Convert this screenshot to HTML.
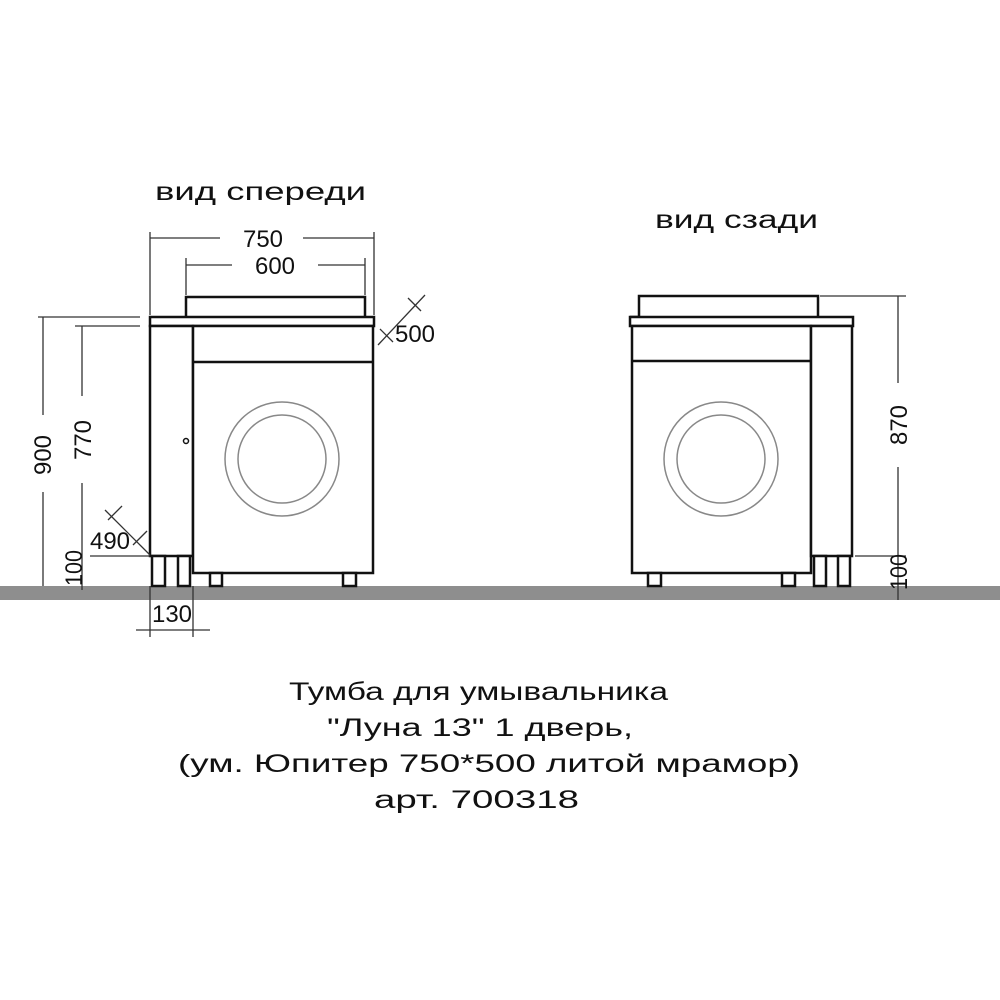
<!DOCTYPE html>
<html><head><meta charset="utf-8"><style>
html,body{margin:0;padding:0;background:#fff}
svg{display:block}
text{font-family:"Liberation Sans","DejaVu Sans",sans-serif;fill:#111}
</style></head><body>
<svg width="1000" height="1000" viewBox="0 0 1000 1000" xmlns="http://www.w3.org/2000/svg">
<rect x="0" y="0" width="1000" height="1000" fill="#fff"/>
<rect x="0" y="586" width="1000" height="14" fill="#8e8e8e"/>

<g fill="#fff" stroke="#111" stroke-width="2.5">
<path d="M186,317 V297 H365 V317"/>
<rect x="150" y="317" width="224" height="9"/>
<rect x="150" y="326" width="43" height="230"/>
<rect x="193" y="326" width="180" height="247"/>
<line x1="193" y1="362" x2="373" y2="362"/>
<rect x="152" y="556" width="13" height="30"/>
<rect x="178" y="556" width="12" height="30"/>
<rect x="210" y="573" width="12" height="13"/>
<rect x="343" y="573" width="13" height="13"/>
<path d="M630,317 H639 V296 H818 V317"/>
<rect x="630" y="317" width="223" height="9"/>
<rect x="632" y="326" width="179" height="247"/>
<line x1="632" y1="361" x2="811" y2="361"/>
<rect x="811" y="326" width="41" height="230"/>
<rect x="814" y="556" width="12" height="30"/>
<rect x="838" y="556" width="12" height="30"/>
<rect x="648" y="573" width="13" height="13"/>
<rect x="782" y="573" width="13" height="13"/>
</g>
<g fill="none" stroke="#888" stroke-width="1.5">
<circle cx="282" cy="459" r="57"/><circle cx="282" cy="459" r="44"/>
<circle cx="721" cy="459" r="57"/><circle cx="721" cy="459" r="44"/>
</g>
<circle cx="186" cy="441" r="2.5" fill="#fff" stroke="#111" stroke-width="1.5"/>

<g stroke="#333" stroke-width="1.3" fill="none">
<line x1="150" y1="232" x2="150" y2="315"/><line x1="374" y1="232" x2="374" y2="315"/>
<line x1="150" y1="238" x2="220" y2="238"/><line x1="303" y1="238" x2="374" y2="238"/>
<line x1="186" y1="258" x2="186" y2="295"/><line x1="365" y1="258" x2="365" y2="295"/>
<line x1="186" y1="265" x2="232" y2="265"/><line x1="318" y1="265" x2="365" y2="265"/>
<line x1="38" y1="317" x2="140" y2="317"/>
<line x1="43" y1="317" x2="43" y2="415"/><line x1="43" y1="492" x2="43" y2="586"/>
<line x1="75" y1="326" x2="140" y2="326"/>
<line x1="82" y1="326" x2="82" y2="396"/><line x1="82" y1="483" x2="82" y2="590"/>
<line x1="90" y1="556" x2="150" y2="556"/>
<line x1="105" y1="510" x2="150" y2="555"/>
<line x1="108" y1="520" x2="122" y2="506"/><line x1="133" y1="545" x2="147" y2="531"/>
<line x1="378" y1="345" x2="425" y2="295"/>
<line x1="380" y1="329" x2="393" y2="342"/><line x1="408" y1="298" x2="421" y2="311"/>
<line x1="150" y1="586" x2="150" y2="637"/><line x1="193" y1="586" x2="193" y2="637"/>
<line x1="136" y1="630" x2="210" y2="630"/>
<line x1="820" y1="296" x2="906" y2="296"/>
<line x1="898" y1="296" x2="898" y2="383"/><line x1="898" y1="467" x2="898" y2="600"/>
<line x1="855" y1="556" x2="906" y2="556"/>
</g>

<g font-size="24">
<text x="243" y="247" textLength="40" lengthAdjust="spacingAndGlyphs">750</text>
<text x="255" y="274" textLength="40" lengthAdjust="spacingAndGlyphs">600</text>
<text x="395" y="342" textLength="40" lengthAdjust="spacingAndGlyphs">500</text>
<text x="90" y="549" textLength="40" lengthAdjust="spacingAndGlyphs">490</text>
<text x="152" y="622" textLength="40" lengthAdjust="spacingAndGlyphs">130</text>
<text transform="translate(51,475) rotate(-90)" textLength="40" lengthAdjust="spacingAndGlyphs">900</text>
<text transform="translate(91,460) rotate(-90)" textLength="40" lengthAdjust="spacingAndGlyphs">770</text>
<text transform="translate(82,586) rotate(-90)" textLength="36" lengthAdjust="spacingAndGlyphs">100</text>
<text transform="translate(907,445) rotate(-90)" textLength="40" lengthAdjust="spacingAndGlyphs">870</text>
<text transform="translate(907,590) rotate(-90)" textLength="36" lengthAdjust="spacingAndGlyphs">100</text>
</g>

<g font-size="25">
<text x="155" y="200" textLength="211" lengthAdjust="spacingAndGlyphs">вид  спереди</text>
<text x="655" y="228" textLength="163" lengthAdjust="spacingAndGlyphs">вид  сзади</text>
<text x="289" y="700" textLength="379" lengthAdjust="spacingAndGlyphs">Тумба  для  умывальника</text>
<text x="327" y="736" textLength="306" lengthAdjust="spacingAndGlyphs">"Луна  13"  1  дверь,</text>
<text x="178" y="772" textLength="622" lengthAdjust="spacingAndGlyphs">(ум.  Юпитер  750*500  литой  мрамор)</text>
<text x="374" y="808" textLength="205" lengthAdjust="spacingAndGlyphs">арт.  700318</text>
</g>
</svg>
</body></html>
